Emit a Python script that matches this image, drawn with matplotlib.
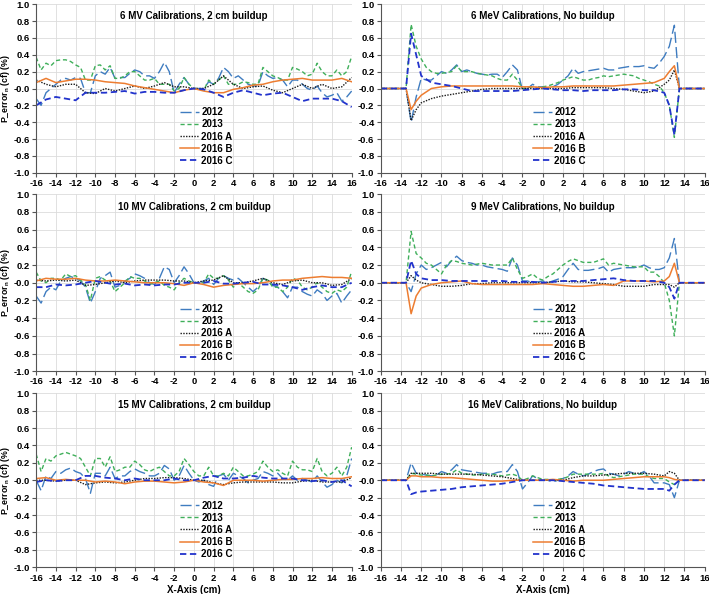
import numpy as np
import matplotlib
matplotlib.use("Agg")
from matplotlib import pyplot as plt

plt.rcParams['font.family'] = ['Liberation Sans', 'DejaVu Sans']
plt.rcParams['font.weight'] = 'bold'
plt.rcParams['axes.unicode_minus'] = False
plt.rcParams['mathtext.fontset'] = 'custom'
plt.rcParams['mathtext.rm'] = 'Liberation Sans:bold'

# x grids
mv_fine = np.arange(-16, 16.01, 0.5)
mv_coarse = np.arange(-16, 16.01, 1.0)
mev_fine = np.concatenate([[-16], np.arange(-13.5, 13.51, 0.5), [16]])
mev_coarse = np.array([-16, -13.5, -13, -12.5] + list(range(-12, 13)) + [12.5, 13, 13.5, 16])

labels = ['2012', '2013', '2016 A', '2016 B', '2016 C']

# ---- 6 MV, 2 cm buildup
mv6_2012 = [-0.12, -0.2, -0.05, 0.0, 0.05, 0.1, 0.12, 0.1, 0.13, 0.12,
            -0.05, -0.05, 0.15, 0.2, 0.17, 0.25, 0.12, 0.13, 0.13, 0.18,
            0.22, 0.2, 0.15, 0.15, 0.12, 0.2, 0.31, 0.2, -0.05, 0.05,
            0.13, 0.05, 0.0, 0.0, 0.0, 0.08, 0.05, 0.12, 0.25, 0.2,
            0.12, 0.15, 0.1, 0.05, 0.03, 0.03, 0.2, 0.15, 0.12, 0.13,
            0.1, 0.02, 0.1, 0.1, 0.05, 0.0, -0.02, 0.03, -0.05, -0.1,
            -0.08, -0.05, -0.15, -0.1, -0.03]
mv6_2013 = [0.37, 0.22, 0.3, 0.27, 0.33, 0.34, 0.34, 0.32, 0.28, 0.25,
            0.1, 0.1, 0.27, 0.28, 0.22, 0.27, 0.12, 0.12, 0.15, 0.2,
            0.2, 0.15, 0.1, 0.1, 0.12, 0.05, 0.05, 0.05, -0.03, 0.0,
            0.13, 0.05, 0.0, 0.0, -0.02, 0.1, 0.05, 0.1, 0.15, 0.05,
            0.05, 0.05, 0.08, 0.07, 0.05, 0.05, 0.25, 0.2, 0.15, 0.13,
            0.1, 0.1, 0.25, 0.23, 0.2, 0.15, 0.17, 0.3, 0.2, 0.15,
            0.15, 0.22, 0.15, 0.2, 0.38]
mv6_a = [0.1, 0.05, 0.02, 0.05, 0.05, -0.05, -0.06, 0.0, -0.03, 0.0,
         0.03, 0.0, 0.03, 0.07, 0.02, 0.02, 0.0, 0.0, 0.05, 0.15,
         0.05, 0.0, 0.02, 0.03, -0.02, -0.05, 0.0, 0.05, 0.0, 0.05,
         0.0, 0.02, 0.13]
mv6_b = [0.07, 0.12, 0.07, 0.09, 0.11, 0.11, 0.1, 0.08, 0.07, 0.06,
         0.03, 0.01, -0.01, -0.03, -0.05, -0.02, 0.0, -0.03, -0.05, -0.05,
         -0.01, 0.01, 0.04, 0.05, 0.08, 0.1, 0.11, 0.12, 0.1, 0.1,
         0.1, 0.12, 0.08]
mv6_c = [-0.2, -0.13, -0.1, -0.12, -0.14, -0.05, -0.05, -0.05, -0.04, -0.03,
         -0.06, -0.04, -0.04, -0.05, -0.05, -0.02, 0.0, -0.01, -0.05, -0.1,
         -0.05, -0.02, -0.05, -0.08, -0.06, -0.05, -0.1, -0.15, -0.12, -0.12,
         -0.12, -0.15, -0.22]

# ---- 10 MV, 2 cm buildup
mv10_2012 = [-0.15, -0.23, -0.1, -0.05, -0.08, 0.02, 0.05, 0.07, 0.05, 0.02,
             -0.05, -0.23, -0.1, 0.05, 0.08, 0.12, -0.05, -0.03, 0.02, 0.05,
             0.1, 0.08, 0.05, 0.0, -0.02, 0.05, 0.18, 0.15, 0.0, 0.08,
             0.18, 0.1, 0.0, 0.0, 0.02, 0.05, -0.02, 0.05, 0.08, 0.05,
             0.03, 0.05, 0.0, -0.05, -0.1, -0.05, 0.05, 0.02, -0.03, -0.05,
             -0.1, -0.17, -0.05, -0.05, -0.1, -0.13, -0.15, -0.08, -0.12, -0.2,
             -0.15, -0.12, -0.23, -0.15, -0.08]
mv10_2013 = [0.12, 0.02, 0.0, 0.05, 0.05, 0.03, 0.1, 0.07, 0.08, 0.03,
             -0.02, -0.2, 0.05, 0.07, 0.03, 0.02, -0.1, -0.05, 0.0, 0.07,
             0.05, 0.05, 0.02, -0.02, 0.0, 0.02, -0.03, -0.05, -0.08, 0.0,
             0.05, 0.02, 0.0, 0.0, 0.0, 0.1, 0.05, 0.05, 0.08, 0.03,
             -0.05, 0.0, -0.05, -0.1, -0.12, -0.08, 0.05, 0.03, -0.05, -0.05,
             -0.1, -0.05, 0.05, 0.03, -0.05, -0.08, -0.05, 0.0, -0.05, -0.1,
             -0.12, -0.08, -0.1, -0.05, 0.13]
mv10_a = [0.03, 0.02, 0.03, 0.02, 0.03, -0.03, -0.02, 0.0, 0.02, 0.0,
          0.02, 0.03, 0.03, 0.03, 0.02, 0.02, 0.0, 0.02, 0.03, 0.08,
          0.0, 0.0, 0.02, 0.05, 0.0, -0.02, 0.02, 0.03, 0.0, 0.0,
          -0.03, -0.02, 0.05]
mv10_b = [0.02, 0.05, 0.04, 0.04, 0.05, 0.03, 0.02, 0.02, 0.03, 0.02,
          0.01, 0.0, 0.0, 0.0, -0.01, -0.03, 0.0, -0.02, -0.05, -0.03,
          -0.02, -0.01, -0.01, 0.0, 0.02, 0.03, 0.03, 0.05, 0.06, 0.07,
          0.06, 0.06, 0.05]
mv10_c = [-0.05, -0.05, -0.02, -0.03, -0.02, 0.0, 0.02, 0.0, -0.02, -0.01,
          -0.03, -0.02, -0.03, -0.02, -0.02, 0.0, 0.0, 0.0, 0.02, -0.01,
          -0.01, 0.0, 0.01, -0.02, -0.02, -0.03, -0.05, -0.08, -0.05, -0.03,
          -0.05, -0.05, 0.0]

# ---- 15 MV, 2 cm buildup
mv15_2012 = [0.0, -0.12, 0.05, 0.02, 0.1, 0.08, 0.12, 0.14, 0.1, 0.08,
             0.02, -0.15, 0.08, 0.08, 0.05, 0.15, 0.02, 0.05, 0.05, 0.1,
             0.13, 0.1, 0.08, 0.05, 0.05, 0.08, 0.17, 0.13, 0.0, 0.05,
             0.17, 0.08, 0.0, -0.02, 0.0, -0.05, -0.07, 0.05, 0.07, 0.0,
             0.08, 0.05, 0.02, -0.03, 0.0, 0.02, 0.1, 0.08, 0.05, 0.08,
             0.02, 0.0, 0.05, 0.0, 0.02, 0.0, -0.02, 0.05, -0.02, -0.08,
             -0.05, 0.0, -0.03, 0.05, 0.25]
mv15_2013 = [0.3, 0.1, 0.25, 0.22, 0.28, 0.3, 0.32, 0.3, 0.28, 0.25,
             0.15, 0.05, 0.25, 0.25, 0.15, 0.27, 0.1, 0.12, 0.15, 0.15,
             0.22, 0.18, 0.12, 0.1, 0.13, 0.15, 0.1, 0.05, 0.05, 0.1,
             0.25, 0.18, 0.1, 0.05, 0.05, 0.15, 0.05, 0.05, 0.08, 0.05,
             0.15, 0.1, 0.05, 0.05, 0.07, 0.1, 0.22, 0.15, 0.1, 0.12,
             0.08, 0.05, 0.22, 0.15, 0.12, 0.12, 0.1, 0.25, 0.1, 0.05,
             0.08, 0.15, 0.05, 0.15, 0.38]
mv15_a = [0.0, 0.0, -0.01, 0.0, 0.0, -0.05, -0.03, -0.02, -0.03, -0.02,
          0.0, 0.02, 0.02, 0.03, 0.03, 0.02, 0.0, 0.0, -0.03, -0.05,
          -0.03, -0.02, -0.02, -0.02, -0.02, -0.03, -0.03, -0.01, 0.0, -0.02,
          -0.02, -0.02, 0.03]
mv15_b = [0.02, 0.03, 0.0, 0.01, 0.0, 0.0, -0.02, -0.01, -0.02, -0.04,
          -0.02, -0.01, -0.01, -0.02, -0.03, -0.02, 0.0, -0.02, -0.03, -0.06,
          0.0, 0.0, 0.0, -0.01, 0.0, 0.01, 0.01, 0.02, 0.02, 0.03,
          0.02, 0.02, 0.04]
mv15_c = [-0.02, 0.0, -0.01, 0.0, 0.0, 0.05, 0.05, 0.03, 0.02, 0.0,
          0.02, 0.0, 0.0, 0.0, 0.02, 0.0, 0.0, 0.03, 0.05, 0.02,
          0.02, 0.03, 0.05, 0.03, 0.02, 0.02, 0.02, 0.0, -0.01, 0.0,
          -0.02, 0.0, -0.07]

# ---- 6 MeV, no buildup
mev6_2012 = [0, 0, -0.4, -0.1, 0.12, 0.1, 0.1, 0.15, 0.2, 0.18,
             0.22, 0.28, 0.2, 0.22, 0.2, 0.18, 0.17, 0.16, 0.17, 0.17,
             0.13, 0.2, 0.28, 0.22, -0.02, 0.0, 0.05, 0.02, 0.02, 0.0,
             0.02, 0.05, 0.1, 0.15, 0.24, 0.18, 0.2, 0.21, 0.22, 0.23,
             0.24, 0.22, 0.22, 0.24, 0.25, 0.26, 0.26, 0.26, 0.27, 0.25,
             0.24, 0.3, 0.38, 0.5, 0.75, 0, 0]
mev6_2013 = [0, 0, 0.76, 0.5, 0.35, 0.25, 0.2, 0.18, 0.18, 0.19,
             0.2, 0.27, 0.2, 0.2, 0.2, 0.18, 0.17, 0.16, 0.15, 0.12,
             0.1, 0.1, 0.17, 0.1, 0.0, 0.01, 0.02, 0.01, 0.02, 0.03,
             0.05, 0.07, 0.1, 0.12, 0.14, 0.12, 0.1, 0.1, 0.12, 0.13,
             0.15, 0.14, 0.15, 0.16, 0.17, 0.16, 0.15, 0.12, 0.1, 0.08,
             0.05, 0.03, -0.05, -0.2, -0.58, 0, 0]
mev6_a = [0, 0, -0.38, -0.25, -0.17, -0.12, -0.09, -0.07, -0.05, -0.03,
          -0.01, 0.0, 0.0, 0.0, 0.0, 0.0, 0.0, 0.0, 0.0, 0.01,
          0.01, 0.01, 0.01, 0.0, -0.01, -0.03, -0.05, -0.03, 0.05, 0.1,
          0.22, 0, 0]
mev6_b = [0, 0, -0.25, -0.15, -0.08, 0.0, 0.02, 0.03, 0.03, 0.03,
          0.03, 0.03, 0.03, 0.03, 0.02, 0.02, 0.01, 0.02, 0.02, 0.03,
          0.03, 0.03, 0.03, 0.03, 0.04, 0.05, 0.06, 0.07, 0.12, 0.2,
          0.27, 0, 0]
mev6_c = [0, 0, 0.65, 0.4, 0.15, 0.07, 0.05, 0.03, 0.0, -0.03,
          -0.03, -0.03, -0.03, -0.03, -0.02, -0.01, 0.0, -0.01, -0.02, -0.02,
          -0.03, -0.02, -0.02, -0.02, -0.01, -0.01, -0.02, -0.02, -0.05, -0.2,
          -0.55, 0, 0]

# ---- 9 MeV, no buildup
mev9_2012 = [0, 0, -0.1, 0.1, 0.2, 0.15, 0.17, 0.2, 0.23, 0.18,
             0.25, 0.3, 0.25, 0.23, 0.22, 0.2, 0.2, 0.18, 0.17, 0.16,
             0.15, 0.13, 0.28, 0.2, 0.02, 0.02, 0.0, 0.01, 0.02, 0.0,
             0.02, 0.04, 0.07, 0.15, 0.22, 0.15, 0.14, 0.14, 0.15, 0.16,
             0.18, 0.12, 0.15, 0.16, 0.17, 0.17, 0.17, 0.18, 0.2, 0.17,
             0.15, 0.15, 0.17, 0.28, 0.5, 0, 0]
mev9_2013 = [0, 0, 0.58, 0.33, 0.28, 0.22, 0.2, 0.15, 0.1, 0.2,
             0.25, 0.24, 0.22, 0.21, 0.2, 0.21, 0.22, 0.21, 0.2, 0.2,
             0.2, 0.2, 0.28, 0.15, 0.05, 0.07, 0.1, 0.05, 0.03, 0.07,
             0.1, 0.15, 0.2, 0.24, 0.27, 0.25, 0.23, 0.23, 0.23, 0.25,
             0.27, 0.2, 0.22, 0.21, 0.2, 0.19, 0.18, 0.18, 0.18, 0.12,
             0.12, 0.07, 0.0, -0.2, -0.6, 0, 0]
mev9_a = [0, 0, 0.08, 0.03, 0.0, -0.02, -0.04, -0.04, -0.03, -0.01,
          -0.01, 0.0, 0.0, 0.0, 0.0, 0.0, 0.0, 0.01, 0.02, 0.01,
          0.01, 0.0, -0.01, -0.02, -0.04, -0.04, -0.04, -0.02, -0.02, -0.02,
          -0.05, 0, 0]
mev9_b = [0, 0, -0.35, -0.15, -0.06, -0.02, 0.0, 0.01, 0.02, -0.01,
          -0.02, -0.02, -0.02, -0.02, -0.02, -0.02, -0.01, -0.02, -0.03, -0.04,
          -0.04, -0.03, -0.02, -0.03, 0.02, 0.02, 0.02, 0.01, 0.02, 0.07,
          0.22, 0, 0]
mev9_c = [0, 0, 0.25, 0.1, 0.05, 0.03, 0.03, 0.02, 0.02, 0.02,
          0.02, 0.02, 0.02, 0.01, 0.01, 0.01, 0.0, 0.01, 0.02, 0.02,
          0.02, 0.03, 0.04, 0.05, 0.03, 0.02, 0.02, 0.02, 0.0, -0.05,
          -0.18, 0, 0]

# ---- 16 MeV, no buildup
mev16_2012 = [0, 0, 0.2, 0.08, 0.07, 0.06, 0.05, 0.06, 0.1, 0.08,
              0.12, 0.18, 0.12, 0.11, 0.1, 0.09, 0.08, 0.08, 0.07, 0.09,
              0.1, 0.1, 0.18, 0.1, -0.1, -0.03, 0.05, 0.02, 0.0, 0.0,
              -0.02, 0.0, 0.02, 0.05, 0.1, 0.07, 0.05, 0.07, 0.1, 0.12,
              0.13, 0.08, 0.07, 0.05, 0.07, 0.1, 0.08, 0.07, 0.1, 0.05,
              -0.03, -0.03, -0.03, -0.05, -0.2, 0, 0]
mev16_2013 = [0, 0, 0.08, 0.07, 0.06, 0.06, 0.05, 0.06, 0.07, 0.07,
              0.08, 0.12, 0.08, 0.07, 0.06, 0.06, 0.07, 0.07, 0.07, 0.06,
              0.05, 0.06, 0.07, 0.05, 0.0, 0.02, 0.05, 0.03, 0.01, 0.01,
              0.0, 0.01, 0.02, 0.04, 0.07, 0.07, 0.07, 0.07, 0.07, 0.07,
              0.08, 0.05, 0.03, 0.04, 0.05, 0.06, 0.07, 0.07, 0.07, 0.04,
              0.02, 0.02, 0.02, -0.02, -0.05, 0, 0]
mev16_a = [0, 0, 0.08, 0.08, 0.08, 0.08, 0.07, 0.07, 0.07, 0.07,
           0.06, 0.05, 0.04, 0.02, 0.0, 0.0, 0.0, 0.0, 0.0, 0.03,
           0.05, 0.05, 0.06, 0.07, 0.08, 0.08, 0.08, 0.07, 0.05, 0.1,
           0.08, 0, 0]
mev16_b = [0, 0, 0.05, 0.05, 0.04, 0.04, 0.03, 0.03, 0.02, 0.01,
           0.0, -0.01, -0.01, 0.0, 0.0, 0.0, 0.0, 0.01, 0.0, -0.01,
           0.0, 0.0, 0.0, 0.01, 0.02, 0.03, 0.04, 0.04, 0.04, 0.03,
           0.01, 0, 0]
mev16_c = [0, 0, -0.16, -0.14, -0.13, -0.12, -0.11, -0.1, -0.08, -0.07,
           -0.06, -0.05, -0.04, -0.02, 0.0, 0.0, 0.0, 0.0, -0.01, -0.02,
           -0.03, -0.04, -0.06, -0.07, -0.08, -0.09, -0.1, -0.1, -0.1, -0.12,
           -0.05, 0, 0]

panels = [
    ('6 MV Calibrations, 2 cm buildup', mv_fine, mv_coarse, [mv6_2012, mv6_2013, mv6_a, mv6_b, mv6_c]),
    ('6 MeV Calibrations, No buildup', mev_fine, mev_coarse, [mev6_2012, mev6_2013, mev6_a, mev6_b, mev6_c]),
    ('10 MV Calibrations, 2 cm buildup', mv_fine, mv_coarse, [mv10_2012, mv10_2013, mv10_a, mv10_b, mv10_c]),
    ('9 MeV Calibrations, No buildup', mev_fine, mev_coarse, [mev9_2012, mev9_2013, mev9_a, mev9_b, mev9_c]),
    ('15 MV Calibrations, 2 cm buildup', mv_fine, mv_coarse, [mv15_2012, mv15_2013, mv15_a, mv15_b, mv15_c]),
    ('16 MeV Calibrations, No buildup', mev_fine, mev_coarse, [mev16_2012, mev16_2013, mev16_a, mev16_b, mev16_c]),
]

styles = [
    dict(color='#3F7CC0', lw=1.0, dashes=(8, 3)),
    dict(color='#3FAF5A', lw=1.0, dashes=(3, 2)),
    dict(color='#1a1a1a', lw=1.0, dashes=(1, 1)),
    dict(color='#ED7D31', lw=1.1, linestyle='-'),
    dict(color='#2233CC', lw=1.3, dashes=(3.5, 2)),
]

fig = plt.figure(figsize=(7.09, 5.94), dpi=100)
lefts = [0.051, 0.537]
widths = [0.445, 0.457]
rows = [(0.709, 0.284), (0.375, 0.298), (0.045, 0.293)]

for i, (title, xf, xc, series) in enumerate(panels):
    r, c = divmod(i, 2)
    ax = fig.add_axes([lefts[c], rows[r][0], widths[c], rows[r][1]])
    for j, (y, lab) in enumerate(zip(series, labels)):
        x = xf if j < 2 else xc
        ax.plot(x, y, label=lab, **styles[j])
    ax.set_xlim(-16, 16)
    ax.set_ylim(-1, 1)
    ax.set_xticks(np.arange(-16, 17, 2))
    ax.set_yticks(np.arange(-1, 1.01, 0.2))
    ax.yaxis.set_major_formatter(matplotlib.ticker.FormatStrFormatter('%.1f'))
    ax.grid(True, color='#dcdcdc', lw=0.6)
    ax.set_axisbelow(True)
    for s in ['top', 'right']:
        ax.spines[s].set_visible(False)
    for s in ['left', 'bottom']:
        ax.spines[s].set_color('#555555')
        ax.spines[s].set_linewidth(0.8)
    ax.tick_params(labelsize=6.8, length=3, width=0.8, color='#555555', pad=1.5)
    for t in ax.get_xticklabels() + ax.get_yticklabels():
        t.set_fontweight('bold')
    ax.text(0.5, 0.93, title, transform=ax.transAxes, ha='center', va='center',
            fontsize=7, fontweight='bold')
    ax.legend(loc='center left', bbox_to_anchor=(0.44 if c == 0 else 0.455, 0.215),
              frameon=False, handlelength=2.0, handletextpad=0.2,
              labelspacing=0.22, borderpad=0, prop={'weight': 'bold', 'size': 7})
    if c == 0:
        ax.set_ylabel('P_error$_\\mathrm{n}$ (cf) (%)', fontsize=6.3, fontweight='bold')
        ax.yaxis.set_label_coords(-0.077, 0.5)
    if r == 2:
        ax.set_xlabel('X-Axis (cm)', fontsize=7, fontweight='bold')
        ax.xaxis.set_label_coords(0.5, -0.1)

fig.savefig('out.png', dpi=100)
